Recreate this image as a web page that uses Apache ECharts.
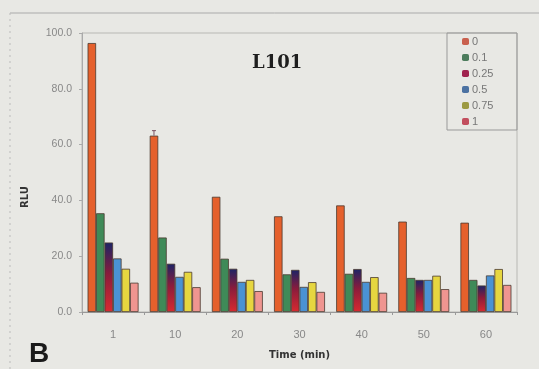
<!DOCTYPE html>
<html>
<head>
<meta charset="utf-8">
<script src="https://cdn.jsdelivr.net/npm/echarts@6/dist/echarts.min.js"></script>
<style>
  html, body { margin: 0; padding: 0; background: #e8e8e4; }
  #chart { width: 539px; height: 369px; }
</style>
</head>
<body>
<div id="chart"></div>
<script>
// Time points (min)
const categories = ['1', '10', '20', '30', '40', '50', '60'];

// Series names (concentrations)
const seriesNames = ['0', '0.1', '0.25', '0.5', '0.75', '1'];

// RLU values per concentration
const rlu0   = [96.4, 63.2, 41.3, 34.3, 38.2, 32.4, 32.0];
const rlu01  = [35.4, 26.7, 19.1, 13.5, 13.7, 12.2, 11.5];
const rlu025 = [24.9, 17.3, 15.5, 15.1, 15.4, 11.5, 9.5];
const rlu05  = [19.2, 12.6, 10.8, 9.0, 10.8, 11.5, 13.1];
const rlu075 = [15.5, 14.4, 11.5, 10.7, 12.5, 13.0, 15.4];
const rlu1   = [10.5, 8.9, 7.5, 7.2, 6.9, 8.2, 9.7];

// Upper error for the "0" series
const err0 = [0, 1.8, 0, 0, 0, 0, 0];

const yTicks = [0, 20, 40, 60, 80, 100];

const seriesValues = [rlu0, rlu01, rlu025, rlu05, rlu075, rlu1];

const barColors = [
  '#e5602c',
  '#3f8a58',
  { type: 'linear', x: 0, y: 0, x2: 0, y2: 1,
    colorStops: [{ offset: 0, color: '#1c2466' }, { offset: 0.45, color: '#8a1c3c' }, { offset: 1, color: '#d82a30' }] },
  '#4a92d4',
  '#e6d640',
  '#ef9590'
];
const legendColors = ['#c9604e', '#4c7c5c', '#a0224e', '#4c72a2', '#9c9a42', '#c24e5e'];

const catGap = 0.18;

const chart = echarts.init(document.getElementById('chart'), null, { renderer: 'canvas' });

const series = seriesValues.map((vals, i) => ({
  name: seriesNames[i],
  type: 'bar',
  data: vals,
  barGap: '0%',
  barCategoryGap: (catGap * 100) + '%',
  itemStyle: {
    color: barColors[i],
    borderColor: '#4a3a30',
    borderWidth: 0.8
  },
  emphasis: { disabled: true }
}));

// Error bar drawn above the first bar in each group
series.push({
  type: 'custom',
  name: 'err',
  z: 5,
  data: rlu0.map((v, i) => [i, v, err0[i]]),
  renderItem: function (params, api) {
    const e = api.value(2);
    if (!e) return null;
    const band = api.size([1, 0])[0];
    const barW = band * (1 - catGap) / seriesValues.length;
    const c = api.coord([api.value(0), api.value(1)]);
    const top = api.coord([api.value(0), api.value(1) + e]);
    const x = c[0] - band * (1 - catGap) / 2 + barW / 2;
    const style = { stroke: '#7a5060', lineWidth: 1 };
    return {
      type: 'group',
      children: [
        { type: 'line', shape: { x1: x, y1: c[1], x2: x, y2: top[1] }, style: style },
        { type: 'line', shape: { x1: x - 2, y1: top[1], x2: x + 2, y2: top[1] }, style: style }
      ]
    };
  },
  tooltip: { show: false },
  silent: true
});

chart.setOption({
  backgroundColor: '#e8e8e4',
  animation: false,
  title: {
    text: 'L101',
    left: 247,
    top: 49,
    textStyle: { fontFamily: 'DejaVu Serif', fontWeight: 'bold', fontSize: 18, color: '#1e1e1e' }
  },
  legend: {
    data: seriesNames.map((n, i) => ({
      name: n,
      itemStyle: { color: legendColors[i], borderWidth: 0 }
    })),
    orient: 'vertical',
    left: 462,
    top: 36,
    itemWidth: 7,
    itemHeight: 7,
    itemGap: 5,
    icon: 'roundRect',
    textStyle: { fontFamily: 'Liberation Sans', fontSize: 11, color: '#777', padding: [0, 0, 0, -2] },
    padding: 0
  },
  grid: {
    left: 82, right: 22, top: 33, bottom: 57,
    show: true,
    borderColor: '#b8b8b4',
    borderWidth: 1,
    backgroundColor: 'transparent'
  },
  xAxis: {
    type: 'category',
    data: categories,
    name: 'Time (min)',
    nameLocation: 'middle',
    nameGap: 38,
    nameTextStyle: { fontFamily: 'DejaVu Sans', fontWeight: 'bold', fontSize: 10, color: '#333' },
    axisLine: { lineStyle: { color: '#999' } },
    axisTick: { show: true, alignWithLabel: false, length: 3, lineStyle: { color: '#999' } },
    axisLabel: { fontFamily: 'Liberation Sans', fontSize: 11, color: '#888', margin: 17 }
  },
  yAxis: {
    type: 'value',
    min: yTicks[0],
    max: yTicks[yTicks.length - 1],
    interval: yTicks[1] - yTicks[0],
    axisLine: { show: true, lineStyle: { color: '#aaa' } },
    axisTick: { show: true, length: 3, lineStyle: { color: '#aaa' } },
    splitLine: { show: false },
    axisLabel: {
      fontFamily: 'Liberation Sans', fontSize: 10.5, color: '#888', margin: 10,
      formatter: v => v.toFixed(1)
    }
  },
  graphic: [
    { type: 'rect', shape: { x: 447, y: 33, width: 70, height: 97 },
      style: { fill: 'transparent', stroke: '#999', lineWidth: 1 }, z: 10 },
    { type: 'line', shape: { x1: 10, y1: 13, x2: 539, y2: 13 },
      style: { stroke: '#aaa', lineWidth: 1 } },
    { type: 'line', shape: { x1: 10, y1: 13, x2: 10, y2: 369 },
      style: { stroke: '#bbb', lineWidth: 1, lineDash: [2, 4] } },
    { type: 'text', x: 25, y: 197, rotation: Math.PI / 2,
      style: { text: 'RLU', font: 'bold 10px "DejaVu Sans"', fill: '#333',
               textAlign: 'center', textVerticalAlign: 'middle' } },
    { type: 'text', left: 29, top: 340,
      style: { text: 'B', font: 'bold 28px "Liberation Sans"', fill: '#1a1a1a' } }
  ],
  series: series
});
</script>
</body>
</html>
